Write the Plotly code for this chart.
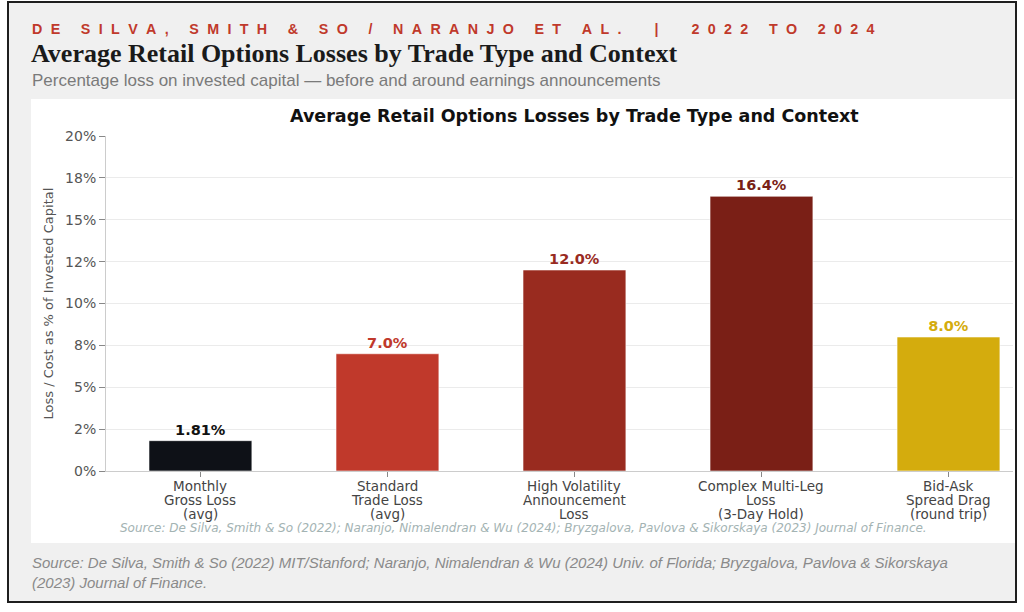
import plotly.graph_objects as go

# ---------------- data ----------------
categories = [
    "Monthly<br>Gross Loss<br>(avg)",
    "Standard<br>Trade Loss<br>(avg)",
    "High Volatility<br>Announcement<br>Loss",
    "Complex Multi-Leg<br>Loss<br>(3-Day Hold)",
    "Bid-Ask<br>Spread Drag<br>(round trip)",
]
values = [1.81, 7.0, 12.0, 16.4, 8.0]
value_labels = ["1.81%", "7.0%", "12.0%", "16.4%", "8.0%"]
bar_colors = ["#0e1117", "#c0392b", "#992b1f", "#7a1f16", "#d4ac0d"]
label_colors = ["#111111", "#c0392b", "#992b1f", "#7a1f16", "#d4ac0d"]
y_tick_vals = [0, 2.5, 5, 7.5, 10, 12.5, 15, 17.5, 20]
y_tick_text = ["0%", "2%", "5%", "8%", "10%", "12%", "15%", "18%", "20%"]

kicker = "DE SILVA, SMITH & SO / NARANJO ET AL.  |  2022 TO 2024"
headline = "Average Retail Options Losses by Trade Type and Context"
subtitle = "Percentage loss on invested capital \u2014 before and around earnings announcements"
chart_title = "Average Retail Options Losses by Trade Type and Context"
y_title = "Loss / Cost as % of Invested Capital"
inner_source = ("Source: De Silva, Smith & So (2022); Naranjo, Nimalendran & Wu (2024); "
                "Bryzgalova, Pavlova & Sikorskaya (2023) Journal of Finance.")
outer_source = ("Source: De Silva, Smith & So (2022) MIT/Stanford; Naranjo, Nimalendran & Wu (2024) "
                "Univ. of Florida; Bryzgalova, Pavlova & Sikorskaya<br>(2023) Journal of Finance.")

# ---------------- layout geometry (pixels) ----------------
W, H = 1024, 612
L, R, T, B = 106, 1013, 136, 471


def px(x):
    return (x - L) / (R - L)


def py(y):
    return (B - y) / (B - T)


def spaced(s, sep="\u2002\u200a"):
    return sep.join(list(s))


fig = go.Figure()
fig.add_trace(go.Bar(
    x=categories,
    y=values,
    width=0.55,
    marker=dict(color=bar_colors, line=dict(color="rgba(255,255,255,0.7)", width=0.8)),
    text=value_labels,
    textposition="outside",
    textfont=dict(family="DejaVu Sans", size=14.5, color=label_colors, weight="bold"),
    cliponaxis=False,
    hoverinfo="skip",
))

shapes = [
    dict(type="rect", xref="paper", yref="paper", layer="below",
         x0=px(8), x1=px(1016), y0=py(2), y1=py(602),
         fillcolor="#f0f0f0", line=dict(color="#1e1e1e", width=2)),
    dict(type="rect", xref="paper", yref="paper", layer="below",
         x0=px(31), x1=px(1015), y0=py(99), y1=py(543),
         fillcolor="#ffffff", line=dict(width=0)),
]

annotations = [
    dict(text="<b>" + spaced(kicker) + "</b>", xref="paper", yref="paper",
         x=px(30), y=py(29), xanchor="left", yanchor="middle", showarrow=False,
         font=dict(family="Liberation Sans", size=14.3, color="#c0392b")),
    dict(text="<b>" + headline + "</b>", xref="paper", yref="paper",
         x=px(29), y=py(53), xanchor="left", yanchor="middle", showarrow=False,
         font=dict(family="Liberation Serif", size=26, color="#1a1a1a")),
    dict(text=subtitle, xref="paper", yref="paper",
         x=px(30), y=py(80), xanchor="left", yanchor="middle", showarrow=False,
         font=dict(family="Liberation Sans", size=17, color="#7a7a7a")),
    dict(text="<b>" + chart_title + "</b>", xref="paper", yref="paper",
         x=px(574), y=py(116), xanchor="center", yanchor="middle", showarrow=False,
         font=dict(family="DejaVu Sans", size=17.5, color="#111111")),
    dict(text=y_title, xref="paper", yref="paper", textangle=-90,
         x=px(48), y=0.5, xanchor="center", yanchor="middle", showarrow=False,
         font=dict(family="DejaVu Sans", size=13, color="#555555")),
    dict(text="<i>" + inner_source + "</i>", xref="paper", yref="paper",
         x=px(523), y=py(528), xanchor="center", yanchor="middle", showarrow=False,
         font=dict(family="DejaVu Sans", size=12, color="#a3b3b3")),
    dict(text="<i>" + outer_source + "</i>", xref="paper", yref="paper",
         x=px(30), y=py(572), xanchor="left", yanchor="middle", showarrow=False,
         align="left",
         font=dict(family="Liberation Sans", size=15, color="#8a8a8a")),
]

# x tick labels, one annotation per line for tight line spacing
for cat in categories:
    for i, line in enumerate(cat.split("<br>")):
        annotations.append(dict(
            text=line, x=cat, xref="x", yref="paper", y=0,
            yshift=-(14.5 + 14 * i), xanchor="center", yanchor="middle",
            showarrow=False,
            font=dict(family="DejaVu Sans", size=13.5, color="#444444")))

fig.update_layout(
    width=W, height=H,
    margin=dict(l=L, r=W - R, t=T, b=H - B, pad=0),
    paper_bgcolor="#ffffff",
    plot_bgcolor="#ffffff",
    showlegend=False,
    shapes=shapes,
    annotations=annotations,
    xaxis=dict(
        type="category",
        range=[-0.505, 4.345],
        showticklabels=False,
        ticks="outside", ticklen=5, tickcolor="#888888",
        showline=True, linecolor="#cccccc", linewidth=1,
        showgrid=False, zeroline=False,
    ),
    yaxis=dict(
        range=[0, 20],
        tickvals=y_tick_vals, ticktext=y_tick_text,
        ticks="outside", ticklen=6, tickcolor="#888888",
        tickfont=dict(family="DejaVu Sans", size=14, color="#555555"),
        showline=True, linecolor="#cccccc", linewidth=1,
        showgrid=True, gridcolor="#ebebeb", gridwidth=1,
        zeroline=False,
    ),
)

fig.write_html("out.html")
